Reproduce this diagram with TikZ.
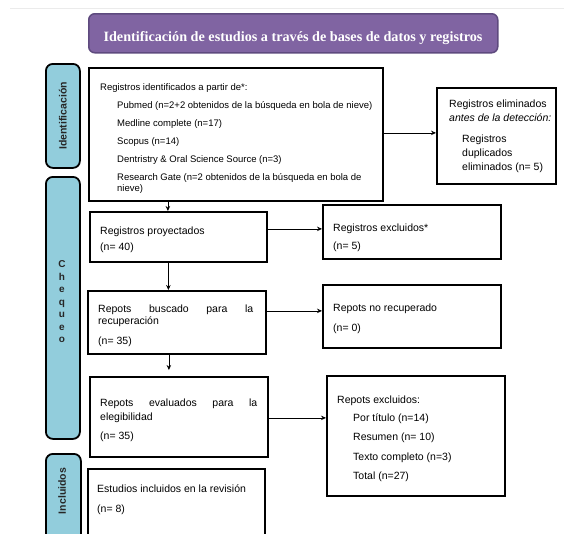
\documentclass[tikz,border=0pt]{standalone}
\usepackage{fontspec}
\setmainfont{Liberation Sans}
\newfontfamily\titlefont{Liberation Serif}
\usetikzlibrary{calc,arrows.meta}
\definecolor{purp}{HTML}{8064A2}
\definecolor{purpd}{HTML}{5E4A7E}
\definecolor{lblue}{HTML}{92CDDC}
\begin{document}
\begin{tikzpicture}[x=1pt,y=-1pt,
  box/.style={draw=black, line width=1.8pt, fill=white, inner sep=0, anchor=north west},
  side/.style={draw=black, line width=1.8pt, fill=lblue, rounded corners=7pt, inner sep=0, anchor=north west},
  arr/.style={-{Stealth[length=5pt,width=4.5pt]}, line width=0.7pt},
  txt/.style={anchor=base west, inner sep=0, font=\fontsize{10.5}{12}\selectfont},
  stxt/.style={anchor=base west, inner sep=0, font=\fontsize{9.5}{11}\selectfont},
  sidetxt/.style={inner sep=0, text=black!85, font=\bfseries\fontsize{10.5}{12}\selectfont},
]
\useasboundingbox (0,0) rectangle (564,533);
\clip (0,0) rectangle (564,533);
\fill[white] (0,0) rectangle (564,533);
\draw[black!8, line width=1pt] (10,8) -- (564,8);

% title
\node[draw=purpd, line width=1.5pt, fill=purp, rounded corners=6pt, minimum width=409pt, minimum height=39pt, anchor=north west] (title) at (88,13) {};
\node[text=white, inner sep=0, font=\titlefont\bfseries\fontsize{14.2}{16}\selectfont] (titletxt) at (293,38.5) {Identificación de estudios a través de bases de datos y registros};

% side labels
\node[side, minimum width=34pt, minimum height=104pt] (sid) at (45,63) {};
\node[sidetxt, rotate=90] (sidt) at (sid.center) {Identificación};
\node[side, minimum width=34pt, minimum height=262pt] (sch) at (45,176) {};
\node[sidetxt, align=center, font=\bfseries\fontsize{10}{12.5}\selectfont] (scht) at (62,302) {C\\h\\e\\q\\u\\e\\o};
\node[side, minimum width=35pt, minimum height=110pt] (sinc) at (45,453) {};
\node[sidetxt, rotate=90] (sinct) at (62,491) {Incluidos};

% boxes
\node[box, minimum width=294pt, minimum height=133pt] (b1) at (88,67) {};
\node[box, minimum width=119pt, minimum height=96pt] (rem) at (436,87) {};
\node[box, minimum width=177pt, minimum height=50pt] (b2) at (89,211) {};
\node[box, minimum width=178pt, minimum height=54pt] (excl) at (322,204) {};
\node[box, minimum width=178pt, minimum height=63pt] (b3) at (87,290) {};
\node[box, minimum width=178pt, minimum height=63pt] (norec) at (322,284) {};
\node[box, minimum width=178pt, minimum height=80pt] (b4) at (89,376) {};
\node[box, minimum width=178pt, minimum height=120pt] (fin) at (326,375) {};
\node[box, minimum width=177pt, minimum height=90pt] (b5) at (87,468) {};

% box 1 text
\node[stxt] (b1a) at (100,90) {Registros identificados a partir de*:};
\node[stxt] (b1b) at (117,108) {Pubmed (n=2+2 obtenidos de la búsqueda en bola de nieve)};
\node[stxt] (b1c) at (117,126) {Medline complete (n=17)};
\node[stxt] (b1d) at (117,144) {Scopus (n=14)};
\node[stxt] (b1e) at (117,162) {Dentristry \& Oral Science Source (n=3)};
\node[stxt] (b1f) at (117,180) {Research Gate (n=2 obtenidos de la búsqueda en bola de};
\node[stxt] (b1g) at (117,191.5) {nieve)};

% removed box text
\node[txt] (rema) at (449,107.5) {Registros eliminados};
\node[txt] (remb) at (449,121.5) {\itshape antes de la detección:};
\node[txt] (remc) at (462,142.5) {Registros};
\node[txt] (remd) at (462,156.5) {duplicados};
\node[txt] (reme) at (462,170.5) {eliminados (n= 5)};

% box 2
\node[txt] (b2a) at (100,234.5) {Registros proyectados};
\node[txt] (b2b) at (100,250.5) {(n= 40)};
\node[txt] (exa) at (333,231.5) {Registros excluidos*};
\node[txt] (exb) at (333,249.5) {(n= 5)};

% box 3
\node[txt] (b3a) at (98,312.5) {\makebox[155pt][s]{Repots buscado para la}};
\node[txt] (b3b) at (98,324.5) {recuperación};
\node[txt] (b3c) at (98,344.5) {(n= 35)};
\node[txt] (nra) at (333,311.5) {Repots no recuperado};
\node[txt] (nrb) at (333,331.5) {(n= 0)};

% box 4
\node[txt] (b4a) at (100,406.5) {\makebox[157pt][s]{Repots evaluados para la}};
\node[txt] (b4b) at (100,420.5) {elegibilidad};
\node[txt] (b4c) at (100,439.5) {(n= 35)};
\node[txt] (fa) at (337,403.5) {Repots excluidos:};
\node[txt] (fb) at (353,421.5) {Por título (n=14)};
\node[txt] (fc) at (353,440.5) {Resumen (n= 10)};
\node[txt] (fd) at (353,460.5) {Texto completo (n=3)};
\node[txt] (fe) at (353,479.5) {Total (n=27)};

% box 5
\node[txt] (b5a) at (97,492.5) {Estudios incluidos en la revisión};
\node[txt] (b5b) at (97,512.5) {(n= 8)};

% arrows
\draw[arr] ([yshift=1.5pt]b1.east) -- ([yshift=1.5pt]b1.east -| rem.west);
\draw[arr] ([yshift=8pt]b2.east) -- ([yshift=8pt]b2.east -| excl.west);
\draw[arr] ([yshift=11.5pt]b3.east) -- ([yshift=11.5pt]b3.east -| norec.west);
\draw[arr] ([yshift=-1pt]b4.east) -- ([yshift=-1pt]b4.east -| fin.west);
\draw[arr] ([xshift=-10.5pt]b2.north |- b1.south) -- ([xshift=-10.5pt]b2.north);
\draw[arr] ([xshift=-10pt]b2.south) -- ([xshift=-10pt]b2.south |- b3.north);
\draw[arr, shorten >=6pt] ([xshift=-8pt]b3.south) -- ([xshift=-8pt]b3.south |- b4.north);
\end{tikzpicture}
\end{document}
